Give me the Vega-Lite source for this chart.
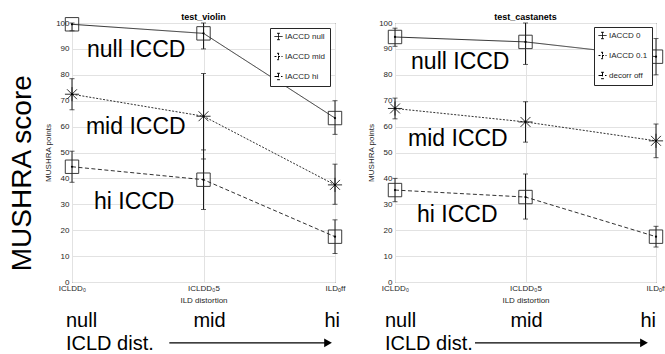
{
  "$schema": "https://vega.github.io/schema/vega-lite/v6.json",
  "padding": {"left": 8, "top": 12, "right": 0, "bottom": 0},
  "bounds": "flush",
  "spacing": 60,
  "datasets": {
    "violin": [
      {"dist": 0, "series": "IACCD null", "score": 99.5, "lo": 97, "hi": 100},
      {"dist": 1, "series": "IACCD null", "score": 96, "lo": 90, "hi": 100},
      {"dist": 2, "series": "IACCD null", "score": 63.3, "lo": 57, "hi": 70},
      {"dist": 0, "series": "IACCD mid", "score": 72.5, "lo": 66.5, "hi": 78.5},
      {"dist": 1, "series": "IACCD mid", "score": 64, "lo": 47.5, "hi": 80.5},
      {"dist": 2, "series": "IACCD mid", "score": 37.5, "lo": 30, "hi": 45.5},
      {"dist": 0, "series": "IACCD hi", "score": 44.5, "lo": 38.5, "hi": 50.5},
      {"dist": 1, "series": "IACCD hi", "score": 39.5, "lo": 28, "hi": 51},
      {"dist": 2, "series": "IACCD hi", "score": 17.5, "lo": 11, "hi": 24}
    ],
    "castanets": [
      {"dist": 0, "series": "IACCD 0", "score": 94.6, "lo": 91, "hi": 98},
      {"dist": 1, "series": "IACCD 0", "score": 92.7, "lo": 84, "hi": 100},
      {"dist": 2, "series": "IACCD 0", "score": 87, "lo": 80, "hi": 94},
      {"dist": 0, "series": "IACCD 0.1", "score": 67, "lo": 63, "hi": 71},
      {"dist": 1, "series": "IACCD 0.1", "score": 61.8, "lo": 54, "hi": 69.6},
      {"dist": 2, "series": "IACCD 0.1", "score": 54.5, "lo": 48, "hi": 61},
      {"dist": 0, "series": "decorr off", "score": 35.5, "lo": 31, "hi": 40},
      {"dist": 1, "series": "decorr off", "score": 32.8, "lo": 24.3, "hi": 41.7},
      {"dist": 2, "series": "decorr off", "score": 17.5, "lo": 13.5, "hi": 21.5}
    ],
    "conds": [
      {"dist": 0, "cond": "null"},
      {"dist": 1, "cond": "mid"},
      {"dist": 2, "cond": "hi"}
    ]
  },
  "config": {
    "font": "Liberation Sans",
    "view": {"stroke": "#262626", "strokeWidth": 1},
    "axis": {
      "labelFont": "Liberation Sans", "labelFontSize": 8, "labelColor": "#262626",
      "titleFont": "Liberation Sans", "titleFontSize": 8, "titleFontWeight": "normal", "titleColor": "#262626",
      "domain": false, "ticks": false, "gridColor": "#e2e2e2", "gridWidth": 1,
      "labelPadding": 3, "titlePadding": 3, "labelFlush": false, "labelOverlap": false
    },
    "axisX": {"labelPadding": 2, "titlePadding": 4},
    "legend": {
      "strokeColor": "#262626", "fillColor": "white", "padding": 4, "cornerRadius": 0,
      "labelFont": "Liberation Sans", "labelFontSize": 8, "labelColor": "#262626", "labelOffset": 2,
      "symbolType": "M-1,0L1,0M0,-0.8L0,0.8M-0.35,-0.8L0.35,-0.8M-0.35,0.8L0.35,0.8",
      "symbolSize": 64, "symbolStrokeColor": "#000000", "symbolStrokeWidth": 1, "rowPadding": 9
    }
  },
  "resolve": {"scale": {"strokeDash": "independent"}},
  "hconcat": [
    {
      "width": 263, "height": 259,
      "resolve": {"axis": {"x": "independent", "y": "independent"}},
      "layer": [
        {
          "data": {"name": "violin"},
          "transform": [{"fold": ["lo", "hi"], "as": ["bound", "val"]}],
          "mark": {"type": "tick", "orient": "horizontal", "size": 5, "thickness": 1, "color": "#1a1a1a"},
          "encoding": {
            "x": {"field": "dist", "type": "quantitative", "scale": {"domain": [0, 2], "nice": false, "zero": false},
                  "axis": {"orient": "bottom", "values": [0, 1, 2], "labelExpr": "datum.value == 0 ? 'ICLDD₀' : datum.value == 1 ? 'ICLDD₀5' : 'ILDₒff'", "title": "ILD distortion", "grid": true, "labelOverlap": false}},
            "y": {"field": "val", "type": "quantitative", "scale": {"domain": [0, 100], "nice": false},
                  "axis": {"orient": "left", "values": [0, 10, 20, 30, 40, 50, 60, 70, 80, 90, 100], "labelOverlap": false, "title": "MUSHRA points", "grid": true}}
          }
        },
        {
          "data": {"name": "violin"},
          "mark": {"type": "rule", "color": "#1a1a1a", "strokeWidth": 1},
          "encoding": {
            "x": {"field": "dist", "type": "quantitative", "axis": null},
            "y": {"field": "lo", "type": "quantitative", "axis": null},
            "y2": {"field": "hi"}
          }
        },
        {
          "data": {"name": "violin"},
          "mark": {"type": "line", "color": "#1a1a1a", "strokeWidth": 0.9},
          "encoding": {
            "x": {"field": "dist", "type": "quantitative", "axis": null},
            "y": {"field": "score", "type": "quantitative", "axis": null},
            "strokeDash": {"field": "series", "type": "nominal",
              "scale": {"domain": ["IACCD null", "IACCD mid", "IACCD hi"], "range": [[1, 0], [2, 1.5], [4, 2.5]]},
              "legend": {"title": null, "orient": "top-right", "offset": 5}}
          }
        },
        {
          "data": {"name": "violin"},
          "transform": [{"filter": "datum.series != 'IACCD mid'"}],
          "mark": {"type": "point", "shape": "square", "filled": false, "color": "#262626", "strokeWidth": 0.9, "size": 180, "opacity": 1},
          "encoding": {
            "x": {"field": "dist", "type": "quantitative", "axis": null},
            "y": {"field": "score", "type": "quantitative", "axis": null}
          }
        },
        {
          "data": {"name": "violin"},
          "transform": [{"filter": "datum.series == 'IACCD mid'"}],
          "mark": {"type": "point", "shape": "M-1,0L1,0M0,-1L0,1M-0.7,-0.7L0.7,0.7M-0.7,0.7L0.7,-0.7", "filled": false, "color": "#1a1a1a", "strokeWidth": 0.9, "size": 200, "opacity": 1},
          "encoding": {
            "x": {"field": "dist", "type": "quantitative", "axis": null},
            "y": {"field": "score", "type": "quantitative", "axis": null}
          }
        },
        {
          "data": {"name": "violin"},
          "mark": {"type": "point", "filled": true, "color": "#000000", "size": 5, "opacity": 1},
          "encoding": {
            "x": {"field": "dist", "type": "quantitative", "axis": null},
            "y": {"field": "score", "type": "quantitative", "axis": null}
          }
        },
        {
          "data": {"values": [{}]},
          "mark": {"type": "text", "text": "test_violin", "fontSize": 9, "fontWeight": "bold", "align": "center", "baseline": "middle", "color": "#000000"},
          "encoding": {"x": {"datum": 1, "type": "quantitative", "axis": null}, "y": {"datum": 102.3, "type": "quantitative", "axis": null}}
        },
        {
          "data": {"values": [{}]},
          "mark": {"type": "text", "text": "null ICCD", "fontSize": 23, "align": "left", "baseline": "middle", "color": "#000000"},
          "encoding": {"x": {"datum": 0.114, "type": "quantitative", "axis": null}, "y": {"datum": 89.6, "type": "quantitative", "axis": null}}
        },
        {
          "data": {"values": [{}]},
          "mark": {"type": "text", "text": "mid ICCD", "fontSize": 23, "align": "left", "baseline": "middle", "color": "#000000"},
          "encoding": {"x": {"datum": 0.106, "type": "quantitative", "axis": null}, "y": {"datum": 59.8, "type": "quantitative", "axis": null}}
        },
        {
          "data": {"values": [{}]},
          "mark": {"type": "text", "text": "hi ICCD", "fontSize": 23, "align": "left", "baseline": "middle", "color": "#000000"},
          "encoding": {"x": {"datum": 0.167, "type": "quantitative", "axis": null}, "y": {"datum": 30.9, "type": "quantitative", "axis": null}}
        },
        {
          "data": {"name": "conds"},
          "mark": {"type": "text", "fontSize": 20, "baseline": "alphabetic", "color": "#000000",
                   "align": {"expr": "datum.dist == 0 ? 'left' : datum.dist == 2 ? 'right' : 'center'"},
                   "dx": {"expr": "datum.dist == 0 ? -6 : datum.dist == 2 ? 5 : 6"}},
          "encoding": {"x": {"field": "dist", "type": "quantitative", "axis": null}, "y": {"datum": -17.4, "type": "quantitative", "axis": null}, "text": {"field": "cond"}}
        },
        {
          "data": {"values": [{}]},
          "mark": {"type": "text", "text": "ICLD dist.", "fontSize": 20, "align": "left", "baseline": "alphabetic", "color": "#000000"},
          "encoding": {"x": {"datum": -0.046, "type": "quantitative", "axis": null}, "y": {"datum": -26.3, "type": "quantitative", "axis": null}}
        },
        {
          "data": {"values": [{}]},
          "mark": {"type": "rule", "strokeWidth": 1.3, "color": "#000000"},
          "encoding": {"x": {"datum": 0.74, "type": "quantitative", "axis": null}, "x2": {"datum": 1.95}, "y": {"datum": -23.5, "type": "quantitative", "axis": null}}
        },
        {
          "data": {"values": [{}]},
          "mark": {"type": "point", "shape": "triangle-right", "filled": true, "size": 80, "color": "#000000", "opacity": 1},
          "encoding": {"x": {"datum": 1.947, "type": "quantitative", "axis": null}, "y": {"datum": -23.5, "type": "quantitative", "axis": null}}
        },
        {
          "data": {"values": [{}]},
          "mark": {"type": "text", "text": "MUSHRA score", "fontSize": 28, "angle": 270, "align": "center", "baseline": "middle", "color": "#000000"},
          "encoding": {"x": {"datum": -0.37, "type": "quantitative", "axis": null}, "y": {"datum": 42, "type": "quantitative", "axis": null}}
        }
      ]
    },
    {
      "width": 261, "height": 259,
      "resolve": {"axis": {"x": "independent", "y": "independent"}},
      "layer": [
        {
          "data": {"name": "castanets"},
          "transform": [{"fold": ["lo", "hi"], "as": ["bound", "val"]}],
          "mark": {"type": "tick", "orient": "horizontal", "size": 5, "thickness": 1, "color": "#1a1a1a"},
          "encoding": {
            "x": {"field": "dist", "type": "quantitative", "scale": {"domain": [0, 2], "nice": false, "zero": false},
                  "axis": {"orient": "bottom", "values": [0, 1, 2], "labelExpr": "datum.value == 0 ? 'ICLDD₀' : datum.value == 1 ? 'ICLDD₀5' : 'ILDₒff'", "title": "ILD distortion", "grid": true, "labelOverlap": false}},
            "y": {"field": "val", "type": "quantitative", "scale": {"domain": [0, 100], "nice": false},
                  "axis": {"orient": "left", "values": [0, 10, 20, 30, 40, 50, 60, 70, 80, 90, 100], "labelOverlap": false, "title": "MUSHRA points", "grid": true}}
          }
        },
        {
          "data": {"name": "castanets"},
          "mark": {"type": "rule", "color": "#1a1a1a", "strokeWidth": 1},
          "encoding": {
            "x": {"field": "dist", "type": "quantitative", "axis": null},
            "y": {"field": "lo", "type": "quantitative", "axis": null},
            "y2": {"field": "hi"}
          }
        },
        {
          "data": {"name": "castanets"},
          "mark": {"type": "line", "color": "#1a1a1a", "strokeWidth": 0.9},
          "encoding": {
            "x": {"field": "dist", "type": "quantitative", "axis": null},
            "y": {"field": "score", "type": "quantitative", "axis": null},
            "strokeDash": {"field": "series", "type": "nominal",
              "scale": {"domain": ["IACCD 0", "IACCD 0.1", "decorr off"], "range": [[1, 0], [2, 1.5], [4, 2.5]]},
              "legend": {"title": null, "orient": "top-right", "offset": 4}}
          }
        },
        {
          "data": {"name": "castanets"},
          "transform": [{"filter": "datum.series != 'IACCD 0.1'"}],
          "mark": {"type": "point", "shape": "square", "filled": false, "color": "#262626", "strokeWidth": 0.9, "size": 180, "opacity": 1},
          "encoding": {
            "x": {"field": "dist", "type": "quantitative", "axis": null},
            "y": {"field": "score", "type": "quantitative", "axis": null}
          }
        },
        {
          "data": {"name": "castanets"},
          "transform": [{"filter": "datum.series == 'IACCD 0.1'"}],
          "mark": {"type": "point", "shape": "M-1,0L1,0M0,-1L0,1M-0.7,-0.7L0.7,0.7M-0.7,0.7L0.7,-0.7", "filled": false, "color": "#1a1a1a", "strokeWidth": 0.9, "size": 200, "opacity": 1},
          "encoding": {
            "x": {"field": "dist", "type": "quantitative", "axis": null},
            "y": {"field": "score", "type": "quantitative", "axis": null}
          }
        },
        {
          "data": {"name": "castanets"},
          "mark": {"type": "point", "filled": true, "color": "#000000", "size": 5, "opacity": 1},
          "encoding": {
            "x": {"field": "dist", "type": "quantitative", "axis": null},
            "y": {"field": "score", "type": "quantitative", "axis": null}
          }
        },
        {
          "data": {"values": [{}]},
          "mark": {"type": "text", "text": "test_castanets", "fontSize": 9, "fontWeight": "bold", "align": "center", "baseline": "middle", "color": "#000000"},
          "encoding": {"x": {"datum": 1, "type": "quantitative", "axis": null}, "y": {"datum": 102.3, "type": "quantitative", "axis": null}}
        },
        {
          "data": {"values": [{}]},
          "mark": {"type": "text", "text": "null ICCD", "fontSize": 23, "align": "left", "baseline": "middle", "color": "#000000"},
          "encoding": {"x": {"datum": 0.123, "type": "quantitative", "axis": null}, "y": {"datum": 85, "type": "quantitative", "axis": null}}
        },
        {
          "data": {"values": [{}]},
          "mark": {"type": "text", "text": "mid ICCD", "fontSize": 23, "align": "left", "baseline": "middle", "color": "#000000"},
          "encoding": {"x": {"datum": 0.1, "type": "quantitative", "axis": null}, "y": {"datum": 55.2, "type": "quantitative", "axis": null}}
        },
        {
          "data": {"values": [{}]},
          "mark": {"type": "text", "text": "hi ICCD", "fontSize": 23, "align": "left", "baseline": "middle", "color": "#000000"},
          "encoding": {"x": {"datum": 0.169, "type": "quantitative", "axis": null}, "y": {"datum": 25.9, "type": "quantitative", "axis": null}}
        },
        {
          "data": {"name": "conds"},
          "mark": {"type": "text", "fontSize": 20, "baseline": "alphabetic", "color": "#000000",
                   "align": {"expr": "datum.dist == 0 ? 'left' : datum.dist == 2 ? 'right' : 'center'"},
                   "dx": {"expr": "datum.dist == 0 ? -10 : datum.dist == 2 ? 0 : 1"}},
          "encoding": {"x": {"field": "dist", "type": "quantitative", "axis": null}, "y": {"datum": -17.4, "type": "quantitative", "axis": null}, "text": {"field": "cond"}}
        },
        {
          "data": {"values": [{}]},
          "mark": {"type": "text", "text": "ICLD dist.", "fontSize": 20, "align": "left", "baseline": "alphabetic", "color": "#000000"},
          "encoding": {"x": {"datum": -0.077, "type": "quantitative", "axis": null}, "y": {"datum": -26.3, "type": "quantitative", "axis": null}}
        },
        {
          "data": {"values": [{}]},
          "mark": {"type": "rule", "strokeWidth": 1.3, "color": "#000000"},
          "encoding": {"x": {"datum": 0.613, "type": "quantitative", "axis": null}, "x2": {"datum": 1.9}, "y": {"datum": -23.5, "type": "quantitative", "axis": null}}
        },
        {
          "data": {"values": [{}]},
          "mark": {"type": "point", "shape": "triangle-right", "filled": true, "size": 80, "color": "#000000", "opacity": 1},
          "encoding": {"x": {"datum": 1.908, "type": "quantitative", "axis": null}, "y": {"datum": -23.5, "type": "quantitative", "axis": null}}
        }
      ]
    }
  ]
}
